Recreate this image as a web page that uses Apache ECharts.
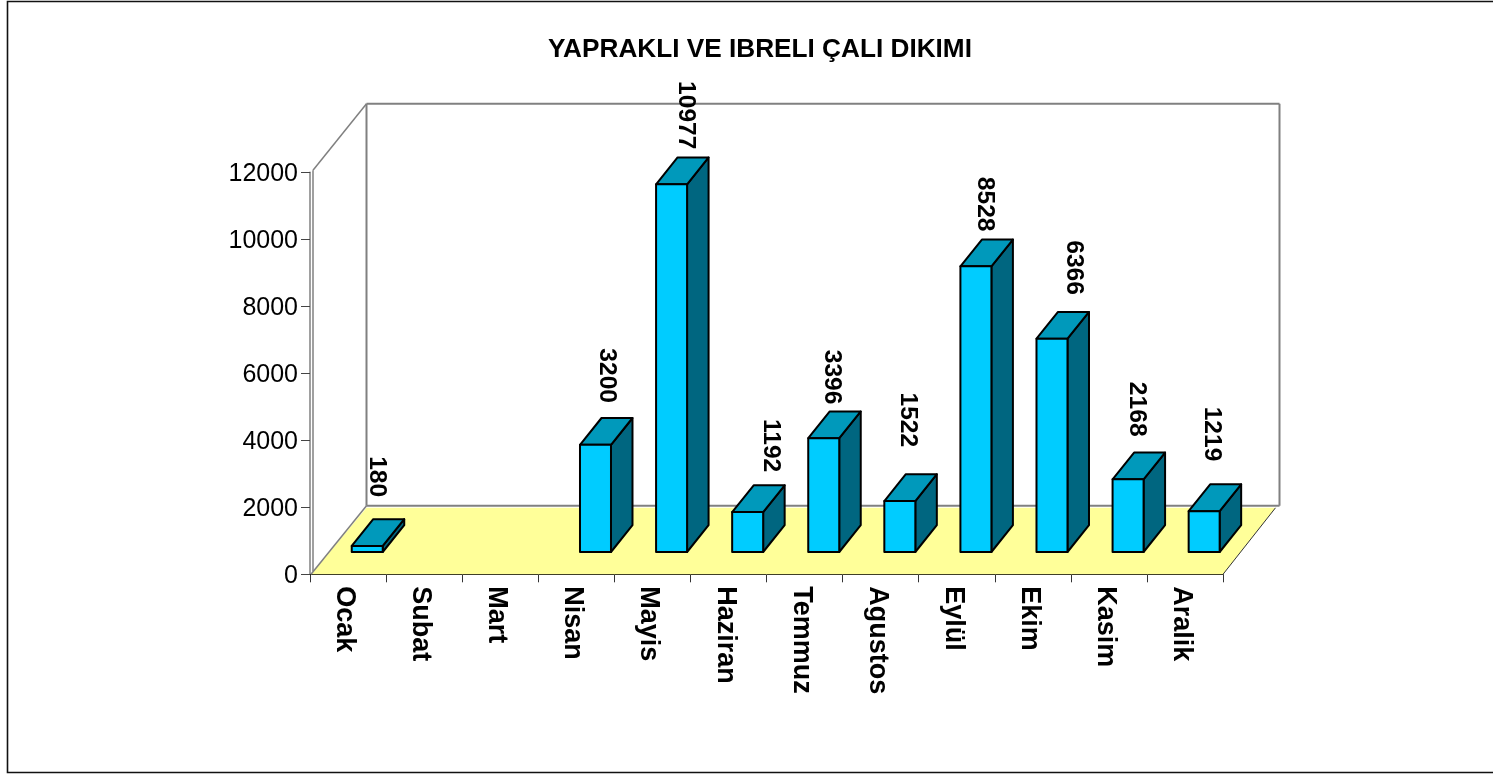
<!DOCTYPE html>
<html><head><meta charset="utf-8">
<style>html,body{margin:0;padding:0;background:#fff}#c{width:1493px;height:774px}</style>
<script src="https://cdn.jsdelivr.net/npm/echarts@6/dist/echarts.min.js"></script>
</head><body><div id="c"></div>
<script>
const chartTitle = 'YAPRAKLI VE IBRELI ÇALI DIKIMI';
const months = ['Ocak','Subat','Mart','Nisan','Mayis','Haziran','Temmuz','Agustos','Eylül','Ekim','Kasim','Aralik'];
const values = [180,null,null,3200,10977,1192,3396,1522,8528,6366,2168,1219];
const yTicks = [0,2000,4000,6000,8000,10000,12000];
// hand-placed label nudges from the reference (px): right of the bar's front centre, gap above its top
const labelShiftX = [10,0,0,11,14,23,8,8,9,22,9,8];
const labelGap = [22,0,0,15,8,13,7,27,8,17,16,23];

const FONT = '"Liberation Sans", Arial, sans-serif';
const depth = {wallX:56.5, wallY:68.5, barOffX:19.2, barOffY:22.3, barW:31, barDX:21.5, barDY:26.8};
const chart = echarts.init(document.getElementById('c'), null, {renderer:'canvas'});

function poly(pts, fill, stroke, lw){
  return {type:'polygon', shape:{points:pts}, style:{fill:fill, stroke:stroke||null, lineWidth:lw||0, lineJoin:'round'}};
}
function line(a,b,color,lw){
  return {type:'line', shape:{x1:a[0],y1:a[1],x2:b[0],y2:b[1]}, style:{stroke:color,lineWidth:lw,fill:null}};
}
function renderWalls(params, api){
  const n = months.length;
  const band = api.size([1,0])[0];
  const bl = api.coord([0,0]); bl[0] -= band/2;
  const br = [bl[0]+band*n, bl[1]];
  const tl = api.coord([0,12000]); tl[0] = bl[0];
  const d = depth, g = '#808080';
  const back = (p)=>[p[0]+d.wallX, p[1]-d.wallY];
  const bbl = back(bl), bbr = back(br), btl = back(tl), btr = [bbr[0], btl[1]];
  return {type:'group', children:[
    poly([[bl[0]+1,bl[1]], br, [bbr[0]-4,bbr[1]+2], [bbl[0],bbl[1]+2]], '#FFFF99'),
    line(br,[bbr[0]-4,bbr[1]+2],'#333',1),
    line([bl[0]+1,bl[1]],[bbl[0],bbl[1]],g,1.5),
    line([tl[0]+3,tl[1]-2],btl,g,1.5),
    line([tl[0]+3,tl[1]-2],[tl[0]+3,bl[1]-3],g,1.5),
    line(btl,bbl,g,2),
    line(btl,btr,g,2),
    line(btr,bbr,g,2),
    line(bbl,bbr,g,2)
  ]};
}
function renderBar(params, api){
  const i = api.value(0), v = api.value(1);
  const d = depth;
  const top = api.coord([i,v]), base = api.coord([i,0]);
  const x0 = top[0]+d.barOffX-d.barW/2, x1 = x0+d.barW;
  const yb = base[1]-d.barOffY, yt = top[1]-d.barOffY;
  const s = {s:'#000', w:2};
  return {type:'group', children:[
    poly([[x1,yt],[x1+d.barDX,yt-d.barDY],[x1+d.barDX,yb-d.barDY],[x1,yb]], '#006680', s.s, s.w),
    poly([[x0,yt],[x0+d.barDX,yt-d.barDY],[x1+d.barDX,yt-d.barDY],[x1,yt]], '#0099BB', s.s, s.w),
    poly([[x0,yt],[x1,yt],[x1,yb],[x0,yb]], '#00CCFF', s.s, s.w),
    {type:'text', rotation:-Math.PI/2,
     x:x0+d.barW/2+labelShiftX[i], y:yt-d.barDY-labelGap[i],
     style:{text:String(v), font:'bold 24.6px '+FONT, fill:'#000', textAlign:'right', textVerticalAlign:'middle'}}
  ]};
}
chart.setOption({
  animation:false,
  backgroundColor:'#fff',
  title:{text:chartTitle, left:755, top:32, textAlign:'center',
    textStyle:{fontFamily:FONT,fontWeight:'bold',fontSize:26.2,color:'#000'}},
  grid:{left:310, right:270, top:172.3, bottom:199.7, containLabel:false},
  xAxis:{type:'category', data:months,
    axisLine:{lineStyle:{color:'#000',width:1}},
    axisTick:{show:true,alignWithLabel:false,length:8,lineStyle:{color:'#333'}},
    axisLabel:{interval:0,rotate:-90,margin:12,color:'#000',
      formatter:m=>'{m|'+m+'}',
      rich:{m:{fontFamily:FONT,fontWeight:'bold',fontSize:27,color:'#000',lineHeight:27,padding:[7,0,0,0]}}}},
  yAxis:{type:'value', min:yTicks[0], max:yTicks[yTicks.length-1], interval:2000,
    axisLine:{show:true,lineStyle:{color:'#808080',width:1.5}},
    axisTick:{show:true,length:9,lineStyle:{color:'#444'}},
    splitLine:{show:false},
    axisLabel:{margin:12,color:'#000',formatter:v=>'{v|'+v+'}',
      rich:{v:{fontFamily:FONT,fontSize:25,color:'#000',lineHeight:25,padding:[3,0,0,0]}}}},
  series:[
    {type:'custom', renderItem:renderWalls, data:[[0,0]], silent:true, z:1, clip:false},
    {type:'custom', renderItem:renderBar, z:2, clip:false,
     data:values.map((v,i)=>[i,v]).filter(d=>d[1]!==null)}
  ],
  graphic:[{type:'rect', silent:true, z:100, shape:{x:7.5,y:1.5,width:1500,height:771},
    style:{fill:null,stroke:'#111',lineWidth:1.6}}]
});
</script></body></html>
